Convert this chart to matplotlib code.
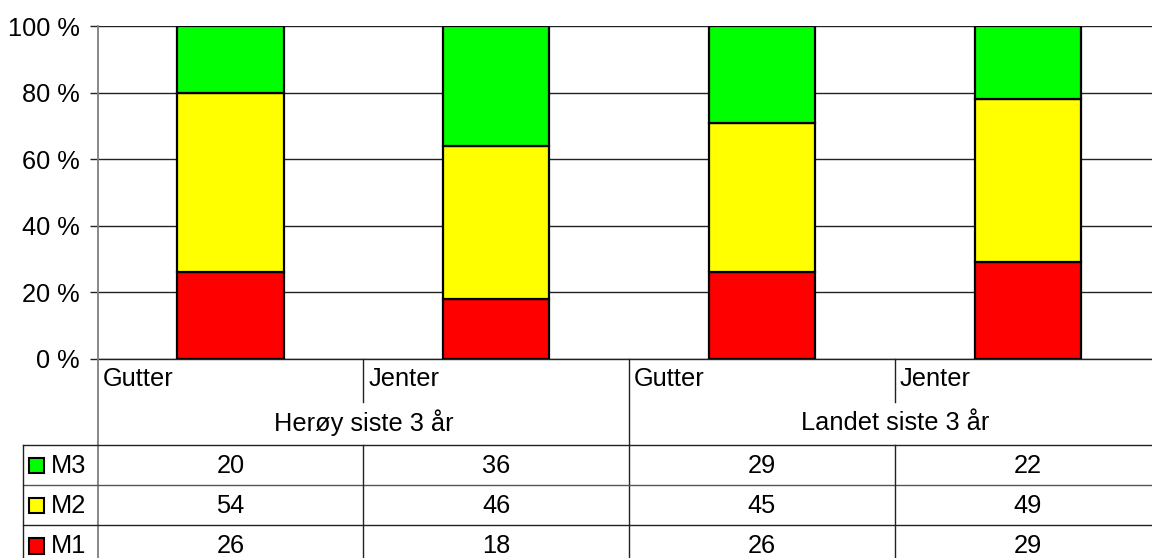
import numpy as np
import matplotlib.pyplot as plt

groups = ['Herøy siste 3 år', 'Landet siste 3 år']
categories = ['Gutter', 'Jenter', 'Gutter', 'Jenter']
m1 = [26, 18, 26, 29]
m2 = [54, 46, 45, 49]
m3 = [20, 36, 29, 22]
series = [('M1', m1, '#ff0000'), ('M2', m2, '#ffff00'), ('M3', m3, '#00ff00')]
yticks = [0, 20, 40, 60, 80, 100]

plt.rcParams['font.family'] = ['Liberation Sans', 'DejaVu Sans']
W, H = 1152, 558
fig = plt.figure(figsize=(W / 100, H / 100), dpi=100)

# layout in pixels
left_px = 97.7
colw = 265.7
top_px, zero_px = 26, 359
fs = 18.3

ax = fig.add_axes([left_px / W, (H - zero_px) / H, 4 * colw / W, (zero_px - top_px) / H])
x = np.arange(len(categories))
bottom = np.zeros(len(categories))
for name, vals, col in series:
    ax.bar(x, vals, 0.40, bottom=bottom, color=col, edgecolor='black', linewidth=1.6, zorder=3)
    bottom += np.array(vals)

ax.set_xlim(-0.5, len(categories) - 0.5)
ax.set_ylim(0, 100)
ax.set_yticks(yticks)
ax.set_yticklabels([f'{v} %' for v in yticks], fontsize=fs)
ax.yaxis.grid(True, color='#222222', linewidth=1.0, zorder=0)
ax.tick_params(axis='y', length=5.8, width=1.0, color='#222222', pad=7)
ax.set_xticks([])
for s in ['top', 'right']:
    ax.spines[s].set_visible(False)
ax.spines['left'].set_visible(False)
ax.spines['bottom'].set_color('#222222')
ax.spines['bottom'].set_linewidth(1.0)

# overlay in pixel coords for category labels and data table
ov = fig.add_axes([0, 0, 1, 1], zorder=5)
ov.set_xlim(0, W)
ov.set_ylim(H, 0)
ov.axis('off')
ov.patch.set_alpha(0)

def cpx(i):
    return left_px + i * colw

grey = '#7f7f7f'
dark = '#222222'
# left axis line (grey) running down through the table
ov.plot([left_px, left_px], [top_px, H], color=grey, lw=1.3)

lab_y = 379
grp_y = 423
tab_top = 444.5
row_h = 40.3
tab_left = 23

for i, c in enumerate(categories):
    ov.text(cpx(i) + 5, lab_y, c, fontsize=fs, ha='left', va='center')
# separators in category area
for i in [1, 3]:
    ov.plot([cpx(i), cpx(i)], [zero_px, zero_px + 43], color=dark, lw=1.0)
ov.plot([cpx(2), cpx(2)], [zero_px, H], color=dark, lw=1.0)
for g, name in enumerate(groups):
    ov.text((cpx(2 * g) + cpx(2 * g + 2)) / 2, grp_y, name, fontsize=fs, ha='center', va='center')

# data table
rows = list(reversed(series))
for r in range(len(rows) + 1):
    yy = tab_top + r * row_h
    if yy < H:
        ov.plot([tab_left, W], [yy, yy], color=dark if r != 1 else '#555555', lw=1.0)
ov.plot([tab_left, tab_left], [tab_top, H], color=dark, lw=1.0)
for i in [1, 3]:
    ov.plot([cpx(i), cpx(i)], [tab_top, H], color=dark, lw=1.0)

for r, (name, vals, col) in enumerate(rows):
    yc = tab_top + (r + 0.5) * row_h + 1
    ov.add_patch(plt.Rectangle((28.5, yc - 8), 15.5, 15.5, facecolor=col, edgecolor='black', lw=1.5))
    ov.text(51, yc, name, fontsize=fs, ha='left', va='center')
    for i, v in enumerate(vals):
        ov.text(cpx(i) + colw / 2, yc, str(v), fontsize=fs, ha='center', va='center')

fig.savefig('out.png', dpi=100)
